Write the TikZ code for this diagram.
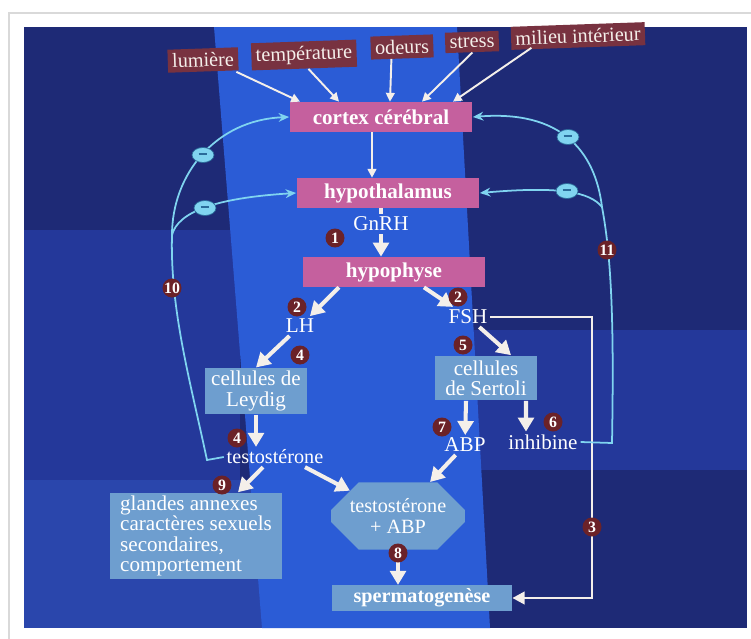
\documentclass[tikz,border=0pt]{standalone}
\usepackage{fontspec}
\setmainfont{Liberation Serif}
\usetikzlibrary{arrows.meta,shapes.geometric,shapes.misc}

\definecolor{fond}{HTML}{1E2A76}
\definecolor{fondmoyen}{HTML}{24389A}
\definecolor{fondbas}{HTML}{2A46AC}
\definecolor{bande}{HTML}{2B5CD6}
\definecolor{rose}{HTML}{C5609E}
\definecolor{brique}{HTML}{783240}
\definecolor{acier}{HTML}{6E9ECF}
\definecolor{numero}{HTML}{6B2228}
\definecolor{cyanclair}{HTML}{80D4F0}
\definecolor{cyanfonce}{HTML}{2A6C9A}
\definecolor{blanc}{HTML}{F4EFEA}

\tikzset{
	organe/.style   = {fill=rose, text=white, font=\bfseries\fontsize{12}{13}\selectfont,
		minimum width=3.66cm, minimum height=0.6cm, inner sep=1pt},
	facteur/.style  = {fill=brique, text=blanc, font=\fontsize{11.5}{12}\selectfont,
		inner sep=2.5pt, minimum height=0.38cm, rotate=2},
	cellule/.style  = {fill=acier, text=white, font=\fontsize{12}{11.5}\selectfont,
		align=center, inner sep=2pt},
	hormone/.style  = {text=white, font=\fontsize{12}{13}\selectfont, inner sep=1.5pt},
	num/.style      = {circle, fill=numero, text=white, font=\bfseries\fontsize{9}{9}\selectfont,
		minimum size=0.38cm, inner sep=0pt},
	moins/.style    = {ellipse, fill=cyanclair, draw=cyanfonce, line width=0.4pt,
		minimum width=0.44cm, minimum height=0.3cm, inner sep=0pt},
	flux/.style     = {-{Triangle[length=8pt,width=9pt]}, line width=2.3pt, draw=blanc},
	fin/.style      = {-{Triangle[length=5pt,width=5pt]}, line width=1.1pt, draw=blanc},
	route/.style    = {-{Triangle[length=7pt,width=7pt]}, line width=1.7pt, draw=blanc},
	retro/.style    = {line width=1pt, draw=cyanclair, -{Stealth[length=6pt,width=5pt]}}
}
\newcommand{\moins}{\textcolor{cyanfonce}{\rule[0.2ex]{5pt}{1.3pt}}}

\begin{document}
\begin{tikzpicture}[x=0.02cm, y=-0.02cm]

	% page and background
	\useasboundingbox (0,0) rectangle (751,639);
	\fill[white] (0,0) rectangle (751,639);
	\draw[black!15, line width=1.5pt] (9,639) -- (9,13) -- (751,13);
	\fill[fond] (24,27) rectangle (747,628);
	\fill[fondmoyen] (24,230) rectangle (240,480);
	\fill[fondbas] (24,480) rectangle (262,628);
	\fill[fondmoyen] (470,330) rectangle (747,470);
	\fill[bande] (214,27) -- (457,27) -- (490,628) -- (262,628) -- cycle;

	% facteurs externes
	\node at (203,60) [facteur] (lum) {lumière};
	\node at (304,55) [facteur] (temp) {température};
	\node at (402,47) [facteur] (odeur) {odeurs};
	\node at (472,42) [facteur] (stress) {stress};
	\node at (578,36) [facteur] (milieu) {milieu intérieur};

	% organes
	\node at (381,117) [organe] (cortex) {cortex cérébral};
	\node at (388,193) [organe] (hypo) {hypothalamus};
	\node at (394,272) [organe] (hypoph) {hypophyse};

	% hormones et cellules
	\node at (381,224) [hormone] (gnrh) {GnRH};
	\node at (300,326) [hormone] (lh) {LH};
	\node at (468,317) [hormone] (fsh) {FSH};
	\node at (256,391) [cellule, minimum width=2.06cm, minimum height=0.76cm] (leydig) {cellules de\\Leydig};
	\node at (486,378) [cellule, minimum width=2.04cm, minimum height=0.9cm] (sertoli) {cellules\\de Sertoli};
	\node at (275,457) [hormone, font=\fontsize{11.5}{12}\selectfont] (testo) {testostérone};
	\node at (465,445) [hormone] (abp) {ABP};
	\node at (543,442) [hormone] (inhib) {inhibine};
	\node at (196,536) [cellule, align=left, minimum width=3.46cm, minimum height=1.66cm] (glandes)
		{glandes annexes\\caractères sexuels\\secondaires,\\comportement};
	\node at (398,516) [cellule, font=\fontsize{11.5}{12}\selectfont, chamfered rectangle,
		chamfered rectangle xsep=0.3cm, chamfered rectangle ysep=0.25cm,
		minimum width=2.54cm, minimum height=1.06cm] (oct) {testostérone\\+ ABP};
	\node at (422,598) [cellule, font=\bfseries\fontsize{11.5}{12}\selectfont,
		minimum width=3.6cm, minimum height=0.48cm] (sperm) {spermatogenèse};

	% entrees vers le cortex
	\draw[fin] ([xshift=0.66cm]lum.south) -- ([xshift=-1.62cm]cortex.north);
	\draw[fin] ([xshift=0.08cm]temp.south) -- ([xshift=-0.84cm]cortex.north);
	\draw[fin] ([xshift=-0.22cm]odeur.south) -- ([xshift=0.18cm]cortex.north);
	\draw[fin] (stress.south) -- ([xshift=0.82cm]cortex.north);
	\draw[fin] ([xshift=-0.94cm]milieu.south) -- ([xshift=1.44cm]cortex.north);
	\draw[fin] ([xshift=-0.18cm]cortex.south) -- ([xshift=-0.18cm]cortex.south |- hypo.north);

	% axe principal
	\draw[flux] (hypo.south -| gnrh) -- (gnrh) -- (gnrh |- hypoph.north);
	\draw[flux] ([xshift=-1.1cm]hypoph.south) -- (lh);
	\draw[flux] ([xshift=0.6cm]hypoph.south) -- (fsh);
	\draw[flux] (lh) -- (leydig.north);
	\draw[flux] (fsh) -- ([xshift=0.5cm]sertoli.north);
	\draw[flux] (leydig.south) -- (leydig.south |- testo.north);
	\draw[flux] ([xshift=-0.24cm]testo.south) -- ([xshift=0.84cm]glandes.north);
	\draw[flux] ([xshift=0.6cm]testo.south) -- (oct);
	\draw[flux] ([xshift=-0.4cm]sertoli.south) -- (abp);
	\draw[flux] ([xshift=0.8cm]sertoli.south) -- ([xshift=-0.34cm]inhib.north);
	\draw[flux] (abp) -- (oct);
	\draw[flux] (oct.south) -- (oct.south |- sperm.north);

	% FSH directement vers la spermatogenese
	\coordinate (basR) at (592,598);
	\draw[route] (fsh.east) -| (basR) -- (sperm.east);

	% retrocontroles negatifs
	\coordinate (coinG) at (207,460);
	\coordinate (brG) at (172,235);
	\draw[retro, -] (testo.west) -- (coinG) .. controls (190,380) and (170,310) .. (brG);
	\draw[retro] (brG) .. controls (172,175) and (215,120) .. (cortex.west);
	\draw[retro] (brG) .. controls (178,212) and (215,198) .. (hypo.west);
	\coordinate (coinD) at (612,443);
	\coordinate (brD) at (602,207);
	\draw[retro, -] (inhib.east) -- (coinD) .. controls (614,330) and (612,260) .. (brD);
	\draw[retro] (brD) .. controls (595,150) and (560,110) .. (cortex.east);
	\draw[retro] (brD) .. controls (590,192) and (560,186) .. (hypo.east);

	\node at (203,155) [moins] (m1) {\moins};
	\node at (205,208) [moins] (m2) {\moins};
	\node at (568,137) [moins] (m3) {\moins};
	\node at (567,191) [moins] (m4) {\moins};

	% numeros
	\node at (335,238) [num] (n1) {1};
	\node at (297,307) [num] (n2a) {2};
	\node at (458,297) [num] (n2b) {2};
	\node at (592,527) [num] (n3) {3};
	\node at (300,355) [num] (n4a) {4};
	\node at (237,438) [num] (n4b) {4};
	\node at (463,345) [num] (n5) {5};
	\node at (553,422) [num] (n6) {6};
	\node at (442,427) [num] (n7) {7};
	\node at (398,553) [num] (n8) {8};
	\node at (222,485) [num] (n9) {9};
	\node at (172,288) [num] (n10) {10};
	\node at (607,250) [num] (n11) {11};

\end{tikzpicture}
\end{document}
